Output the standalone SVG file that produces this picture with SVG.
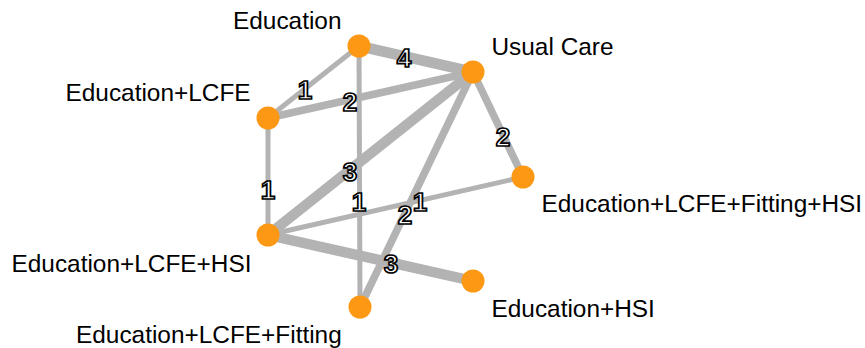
<svg xmlns="http://www.w3.org/2000/svg" width="865" height="348" viewBox="0 0 865 348">
<style>
.e{stroke:#b3b3b3;stroke-linecap:butt;fill:none}
.w1{stroke-width:5}
.w2{stroke-width:7.5}
.w3{stroke-width:10.5}
.w4{stroke-width:11}
.n{fill:#fc9814}
.lab{font-family:"Liberation Sans",Arial,sans-serif;font-size:24.4px;fill:#000}
.el{font-family:"Liberation Sans",Arial,sans-serif;font-size:26px;font-weight:bold;fill:#fff;stroke:#000;stroke-width:1.7;text-anchor:middle}
</style>
<rect width="865" height="348" fill="#fff"/>
<g id="connectors">
<line class="e w4" x1="359" y1="46" x2="473" y2="72"/>
<line class="e w1" x1="359" y1="46" x2="268" y2="118"/>
<line class="e w1" x1="359" y1="46" x2="360" y2="307"/>
<line class="e w2" x1="268" y1="118" x2="473" y2="72"/>
<line class="e w1" x1="268" y1="118" x2="268" y2="235"/>
<line class="e w2" x1="473" y1="72" x2="523" y2="177"/>
<line class="e w3" x1="473" y1="72" x2="268" y2="235"/>
<line class="e w2" x1="473" y1="72" x2="360" y2="307"/>
<line class="e w1" x1="268" y1="235" x2="523" y2="177"/>
<line class="e w3" x1="268" y1="235" x2="473" y2="281"/>
<text class="el" x="404" y="67">4</text>
<text class="el" x="305" y="99">1</text>
<text class="el" x="350" y="111">2</text>
<text class="el" x="503" y="146">2</text>
<text class="el" x="268" y="199">1</text>
<text class="el" x="350" y="181">3</text>
<text class="el" x="359" y="211">1</text>
<text class="el" x="405" y="224">2</text>
<text class="el" x="420" y="211">1</text>
<text class="el" x="391" y="273">3</text>
</g>
<g id="n-education"><circle class="n" cx="359" cy="46" r="11.5"/><text class="lab" x="233" y="29">Education</text></g>
<g id="n-usualcare"><circle class="n" cx="473" cy="72" r="11.5"/><text class="lab" x="491.5" y="55">Usual Care</text></g>
<g id="n-edu-lcfe"><circle class="n" cx="268" cy="118" r="11.5"/><text class="lab" x="65.5" y="101">Education+LCFE</text></g>
<g id="n-edu-lcfe-fit-hsi"><circle class="n" cx="523" cy="177" r="11.5"/><text class="lab" x="541.5" y="212">Education+LCFE+Fitting+HSI</text></g>
<g id="n-edu-lcfe-hsi"><circle class="n" cx="268" cy="235" r="11.5"/><text class="lab" x="11.5" y="272">Education+LCFE+HSI</text></g>
<g id="n-edu-hsi"><circle class="n" cx="473" cy="281" r="11.5"/><text class="lab" x="491.5" y="317">Education+HSI</text></g>
<g id="n-edu-lcfe-fit"><circle class="n" cx="360" cy="307" r="11.5"/><text class="lab" x="76" y="343">Education+LCFE+Fitting</text></g>
</svg>
